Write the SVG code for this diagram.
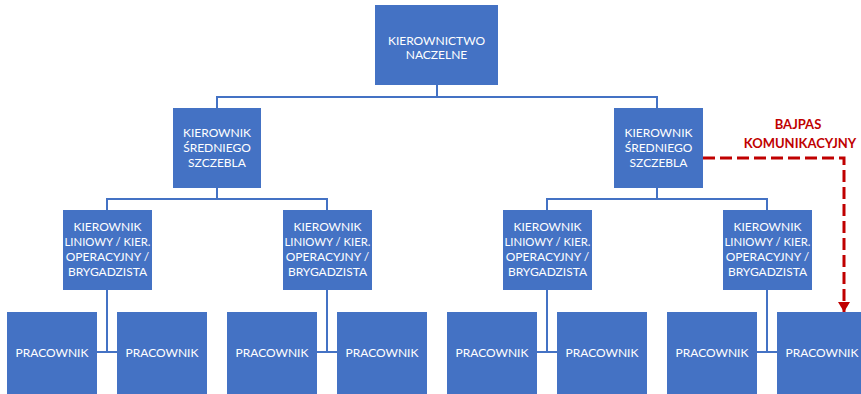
<svg xmlns="http://www.w3.org/2000/svg" width="861" height="394" viewBox="0 0 861 394">
<style>
.box{fill:#4472C4;}
.t{font-family:Lato,"Open Sans","Liberation Sans",sans-serif;font-size:12px;fill:#FFFFFF;text-anchor:middle;}
.c{fill:none;stroke:#4472C4;stroke-width:2;}
.red{font-family:Lato,"Open Sans","Liberation Sans",sans-serif;font-size:13px;font-weight:bold;fill:#C00000;text-anchor:middle;}
.dash{fill:none;stroke:#C00000;stroke-width:3;stroke-dasharray:12 5;}
</style>
<defs>
<marker id="ah" markerWidth="10" markerHeight="12" refX="10" refY="6" orient="auto" markerUnits="userSpaceOnUse" viewBox="0 0 10 12">
<path d="M0,0 L10,6 L0,12 Z" fill="#C00000"/>
</marker>
</defs>
<rect width="861" height="394" fill="#FFFFFF"/>
<g id="connectors">
<path class="c" d="M437,85 V97 M217,108 V97 H657 V108"/>
<path class="c" d="M217,188 V199 M107,210 V199 H327 V210"/>
<path class="c" d="M657,188 V199 M547,210 V199 H767 V210"/>
<path class="c" d="M107,290 V352 M97,352 H117"/>
<path class="c" d="M327,290 V352 M317,352 H337"/>
<path class="c" d="M547,290 V352 M537,352 H557"/>
<path class="c" d="M767,290 V352 M757,352 H777"/>
<path class="dash" d="M703,158 H844 V312" marker-end="url(#ah)"/>
</g>
<g id="bypass-label">
<text class="red" x="798" y="129">BAJPAS</text>
<text class="red" x="800" y="148">KOMUNIKACYJNY</text>
</g>
<g id="top">
<rect class="box" x="375" y="5" width="123" height="80"/>
<text class="t" x="436.5" y="45">KIEROWNICTWO</text>
<text class="t" x="436.5" y="59">NACZELNE</text>
</g>
<g id="mid1">
<rect class="box" x="173" y="108" width="88" height="80"/>
<text class="t" x="217" y="137">KIEROWNIK</text>
<text class="t" x="217" y="152">ŚREDNIEGO</text>
<text class="t" x="217" y="167">SZCZEBLA</text>
</g>
<g id="mid2">
<rect class="box" x="614" y="108" width="89" height="80"/>
<text class="t" x="658.5" y="137">KIEROWNIK</text>
<text class="t" x="658.5" y="152">ŚREDNIEGO</text>
<text class="t" x="658.5" y="167">SZCZEBLA</text>
</g>
<g id="line1">
<rect class="box" x="63" y="210" width="89" height="80"/>
<text class="t" x="107.5" y="231">KIEROWNIK</text>
<text class="t" x="107.5" y="246" textLength="86" lengthAdjust="spacingAndGlyphs">LINIOWY / KIER.</text>
<text class="t" x="107.5" y="261">OPERACYJNY /</text>
<text class="t" x="107.5" y="276">BRYGADZISTA</text>
</g>
<g id="line2">
<rect class="box" x="283" y="210" width="89" height="80"/>
<text class="t" x="327.5" y="231">KIEROWNIK</text>
<text class="t" x="327.5" y="246" textLength="86" lengthAdjust="spacingAndGlyphs">LINIOWY / KIER.</text>
<text class="t" x="327.5" y="261">OPERACYJNY /</text>
<text class="t" x="327.5" y="276">BRYGADZISTA</text>
</g>
<g id="line3">
<rect class="box" x="503" y="210" width="89" height="80"/>
<text class="t" x="547.5" y="231">KIEROWNIK</text>
<text class="t" x="547.5" y="246" textLength="86" lengthAdjust="spacingAndGlyphs">LINIOWY / KIER.</text>
<text class="t" x="547.5" y="261">OPERACYJNY /</text>
<text class="t" x="547.5" y="276">BRYGADZISTA</text>
</g>
<g id="line4">
<rect class="box" x="723" y="210" width="89" height="80"/>
<text class="t" x="767.5" y="231">KIEROWNIK</text>
<text class="t" x="767.5" y="246" textLength="86" lengthAdjust="spacingAndGlyphs">LINIOWY / KIER.</text>
<text class="t" x="767.5" y="261">OPERACYJNY /</text>
<text class="t" x="767.5" y="276">BRYGADZISTA</text>
</g>
<g id="w1"><rect class="box" x="7" y="312" width="90" height="82"/><text class="t" x="52" y="357">PRACOWNIK</text></g>
<g id="w2"><rect class="box" x="117" y="312" width="90" height="82"/><text class="t" x="162" y="357">PRACOWNIK</text></g>
<g id="w3"><rect class="box" x="227" y="312" width="90" height="82"/><text class="t" x="272" y="357">PRACOWNIK</text></g>
<g id="w4"><rect class="box" x="337" y="312" width="90" height="82"/><text class="t" x="382" y="357">PRACOWNIK</text></g>
<g id="w5"><rect class="box" x="447" y="312" width="90" height="82"/><text class="t" x="492" y="357">PRACOWNIK</text></g>
<g id="w6"><rect class="box" x="557" y="312" width="90" height="82"/><text class="t" x="602" y="357">PRACOWNIK</text></g>
<g id="w7"><rect class="box" x="667" y="312" width="90" height="82"/><text class="t" x="712" y="357">PRACOWNIK</text></g>
<g id="w8"><rect class="box" x="777" y="312" width="90" height="82"/><text class="t" x="822" y="357">PRACOWNIK</text></g>
</svg>
